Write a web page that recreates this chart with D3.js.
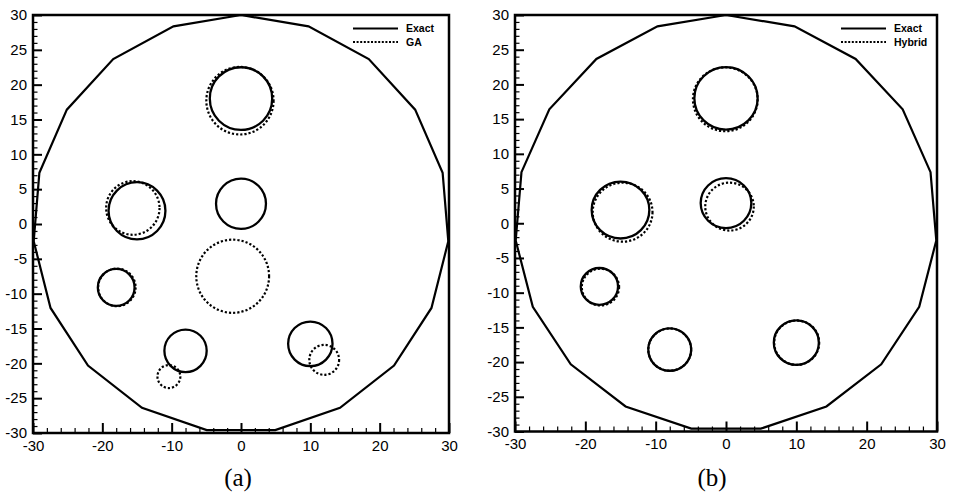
<!DOCTYPE html>
<html><head><meta charset="utf-8">
<script src="https://cdn.jsdelivr.net/npm/d3@7"></script>
<style>
html,body{margin:0;padding:0;background:#fff;}
svg{display:block;}
</style></head>
<body>
<svg id="chart" width="955" height="493"></svg>
<script>
// ---- data ----
const xTickLabels = [-30, -20, -10, 0, 10, 20, 30];
const yTickLabels = [-30, -25, -20, -15, -10, -5, 0, 5, 10, 15, 20, 25, 30];
const xMinorTicks = [-28,-26,-24,-22,-18,-16,-14,-12,-8,-6,-4,-2,2,4,6,8,12,14,16,18,22,24,26,28];
const yMinorTicks = [-29,-28,-27,-26,-24,-23,-22,-21,-19,-18,-17,-16,-14,-13,-12,-11,-9,-8,-7,-6,-4,-3,-2,-1,1,2,3,4,6,7,8,9,11,12,13,14,16,17,18,19,21,22,23,24,26,27,28,29];

// outer boundary (19-sided polygon)
const boundaryX = [0, 9.74, 18.43, 25.12, 29.08, 29.90, 27.47, 22.07, 14.28, 4.94, -4.94, -14.28, -22.07, -27.47, -29.90, -29.08, -25.12, -18.43, -9.74];
const boundaryY = [30, 28.37, 23.67, 16.41, 7.36, -2.48, -12.05, -20.32, -26.39, -29.59, -29.59, -26.39, -20.32, -12.05, -2.48, 7.36, 16.41, 23.67, 28.37];

// exact inclusions
const exactCx = [0, 0, -15, -18, -8, 10];
const exactCy = [18, 2.9, 1.9, -9.1, -18.2, -17.2];
const exactR  = [4.5, 3.6, 4.1, 2.65, 3.05, 3.2];

// GA reconstruction
const gaCx = [-0.15, -1.2, -15.6, -17.9, -10.4, 12];
const gaCy = [17.7, -7.5, 2.3, -9.1, -21.9, -19.5];
const gaR  = [4.85, 5.25, 3.85, 2.7, 1.65, 2.15];

// Hybrid reconstruction
const hybCx = [-0.1, 0.5, -14.7, -17.85, -8, 10.05];
const hybCy = [17.85, 2.4, 1.6, -9.2, -18.2, -17.2];
const hybR  = [4.6, 3.45, 4.25, 2.65, 3.05, 3.2];

const panelNames = ["(a)", "(b)"];
const legendNames = [["Exact", "GA"], ["Exact", "Hybrid"]];

// ---- drawing ----
const FONT = "Liberation Sans, Arial, sans-serif";
const svg = d3.select("#chart");
const panels = [
  {x0: 33, x1: 449, y0: 15, y1: 433, cap: [238, 477],
   est: {cx: gaCx, cy: gaCy, r: gaR}, legend: legendNames[0], name: panelNames[0]},
  {x0: 515, x1: 937, y0: 15, y1: 431.5, cap: [712, 477],
   est: {cx: hybCx, cy: hybCy, r: hybR}, legend: legendNames[1], name: panelNames[1]}
];

panels.forEach(p => {
  const x = d3.scaleLinear().domain([-30, 30]).range([p.x0, p.x1]);
  const y = d3.scaleLinear().domain([-30, 30]).range([p.y1, p.y0]);
  const g = svg.append("g");

  // minor ticks
  g.append("g").attr("transform", `translate(${p.x0},0)`)
    .call(d3.axisLeft(y).tickValues(yMinorTicks).tickSize(-4.5).tickFormat(""))
    .call(s => s.select(".domain").remove())
    .selectAll("line").attr("stroke", "#000").attr("stroke-width", 1.2);
  g.append("g").attr("transform", `translate(0,${p.y1})`)
    .call(d3.axisBottom(x).tickValues(xMinorTicks).tickSize(-5).tickFormat(""))
    .call(s => s.select(".domain").remove())
    .selectAll("line").attr("stroke", "#000").attr("stroke-width", 1.2);

  // major ticks + labels
  const ya = g.append("g").attr("transform", `translate(${p.x0},0)`)
    .call(d3.axisLeft(y).tickValues(yTickLabels).tickSize(-9).tickPadding(6).tickFormat(d => String(d)));
  ya.select(".domain").remove();
  ya.attr("font-family", FONT).attr("font-size", 15);
  ya.selectAll("text").attr("fill", "#000");
  ya.selectAll("line").attr("stroke", "#000").attr("stroke-width", 2);
  const xa = g.append("g").attr("transform", `translate(0,${p.y1})`)
    .call(d3.axisBottom(x).tickValues(xTickLabels).tickSize(-10).tickPadding(7).tickFormat(d => String(d)));
  xa.select(".domain").remove();
  xa.attr("font-family", FONT).attr("font-size", 15);
  xa.selectAll("text").attr("fill", "#000");
  xa.selectAll("line").attr("stroke", "#000").attr("stroke-width", 2);

  // boundary polygon
  const pts = boundaryX.map((bx, i) => [x(bx), y(boundaryY[i])]);
  g.append("path")
    .attr("d", d3.line().curve(d3.curveLinearClosed)(pts))
    .attr("fill", "none").attr("stroke", "#000").attr("stroke-width", 2.2);

  // estimated (dotted) circles
  g.selectAll(".est").data(p.est.cx.map((c, i) => ({cx: c, cy: p.est.cy[i], r: p.est.r[i]})))
    .join("ellipse")
    .attr("cx", d => x(d.cx)).attr("cy", d => y(d.cy))
    .attr("rx", d => x(d.r) - x(0)).attr("ry", d => y(0) - y(d.r))
    .attr("fill", "none").attr("stroke", "#000").attr("stroke-width", 2.2)
    .attr("stroke-dasharray", "2.2,2");

  // exact (solid) circles
  g.selectAll(".exact").data(exactCx.map((c, i) => ({cx: c, cy: exactCy[i], r: exactR[i]})))
    .join("ellipse")
    .attr("cx", d => x(d.cx)).attr("cy", d => y(d.cy))
    .attr("rx", d => x(d.r) - x(0)).attr("ry", d => y(0) - y(d.r))
    .attr("fill", "none").attr("stroke", "#000").attr("stroke-width", 2.3);

  // frame
  g.append("rect")
    .attr("x", p.x0).attr("y", p.y0)
    .attr("width", p.x1 - p.x0).attr("height", p.y1 - p.y0)
    .attr("fill", "none").attr("stroke", "#000").attr("stroke-width", 2.5);

  // legend
  const lx0 = p.x1 - 96, lx1 = p.x1 - 51, ltx = p.x1 - 43;
  const lg = g.append("g");
  lg.append("line").attr("x1", lx0).attr("x2", lx1).attr("y1", 28.5).attr("y2", 28.5)
    .attr("stroke", "#000").attr("stroke-width", 2);
  lg.append("line").attr("x1", lx0).attr("x2", lx1).attr("y1", 42).attr("y2", 42)
    .attr("stroke", "#000").attr("stroke-width", 2).attr("stroke-dasharray", "2,1.6");
  lg.selectAll("text").data(p.legend).join("text")
    .attr("x", ltx).attr("y", (d, i) => 28.5 + i * 13.5)
    .attr("dy", "0.35em")
    .attr("font-family", FONT)
    .attr("font-size", 10.5).attr("font-weight", "bold")
    .text(d => d);

  // caption
  g.append("text").attr("x", p.cap[0]).attr("y", p.cap[1]).attr("dy", "0.35em")
    .attr("text-anchor", "middle")
    .attr("font-family", "Liberation Serif, Times New Roman, serif")
    .attr("font-size", 25).text(p.name);
});
</script>
</body></html>
